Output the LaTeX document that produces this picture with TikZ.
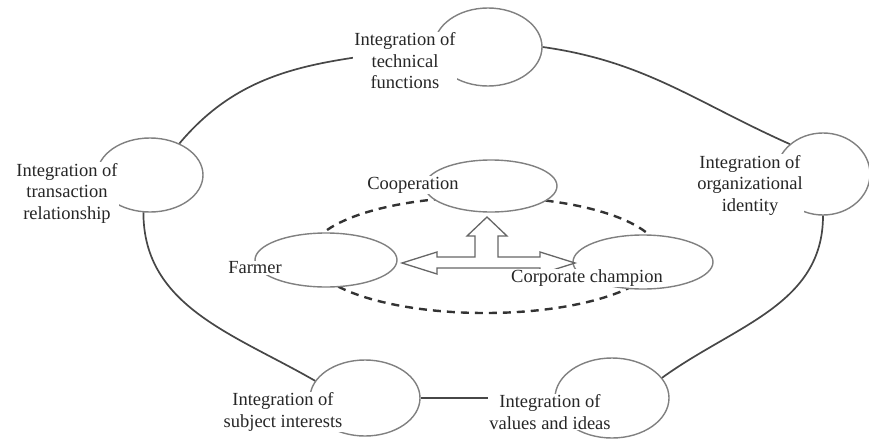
\documentclass[tikz,border=0pt]{standalone}
\usepackage{fontspec}
\setmainfont{Liberation Serif}
\usetikzlibrary{shapes.geometric}
\tikzset{
  bubble/.style={ellipse,draw=black!50,line width=1.4pt,fill=white,inner sep=0pt},
  ring/.style={line width=1.7pt,draw=black!72},
  dashring/.style={ellipse,draw=black!80,line width=2.4pt,dash pattern=on 8pt off 6pt,inner sep=0pt},
  hollow/.style={draw=black!60,line width=1.3pt,fill=white,line join=miter},
  tag/.style={fill=white,align=center,inner sep=1pt,text=black!85,font=\fontsize{18.5}{21.5}\selectfont}
}
\begin{document}
\begin{tikzpicture}[x=1pt,y=-1pt]
\useasboundingbox (0,0) rectangle (869,439);
\node[dashring,minimum width=350,minimum height=116] (alliance) at (485,255) {};
\node[bubble,minimum width=108,minimum height=78] (tech) at (488,47) {};
\node[bubble,minimum width=106,minimum height=74] (trans) at (150,175) {};
\node[bubble,minimum width=94,minimum height=82] (ident) at (823,174) {};
\node[bubble,minimum width=110,minimum height=76] (subj) at (365,398) {};
\node[bubble,minimum width=114,minimum height=80] (values) at (612,398) {};
\node[bubble,minimum width=132,minimum height=52] (coop) at (491,186) {};
\node[bubble,minimum width=142,minimum height=54] (farmer) at (326,260) {};
\node[bubble,minimum width=140,minimum height=54] (corp) at (643,262) {};
\draw[ring] (tech.east) to[out=-8,in=156] (ident.138);
\draw[ring] (ident.south) to[out=-90,in=36] (values.22);
\draw[ring] (subj.east) -- (values.west);
\draw[ring] (trans.-100) to[out=-90,in=150] (subj.161);
\draw[ring] (trans.47) to[out=50,in=188] (tech.west);
\draw[hollow] (402,263) -- (437,252) -- (437,257) -- (475,257) -- (475,236) -- (467,236)
  -- (487,217) -- (507,236) -- (498,236) -- (498,257) -- (540,257) -- (540,252)
  -- (575,263) -- (540,274) -- (540,268) -- (437,268) -- (437,274) -- cycle;
\node[tag] (techl) at (405,61) {Integration of\\technical\\functions};
\node[tag] (transl) at (67,193) {Integration of\\transaction\\relationship};
\node[tag] (identl) at (750,185) {Integration of\\organizational\\identity};
\node[tag] (subjl) at (283,412) {Integration of\\subject interests};
\node[tag] (valuesl) at (550,412) {Integration of\\values and ideas};
\node[tag] (coopl) at (413,185) {Cooperation};
\node[tag] (farmerl) at (255,268) {Farmer};
\node[tag] (corpl) at (587,278) {Corporate champion};
\end{tikzpicture}
\end{document}
